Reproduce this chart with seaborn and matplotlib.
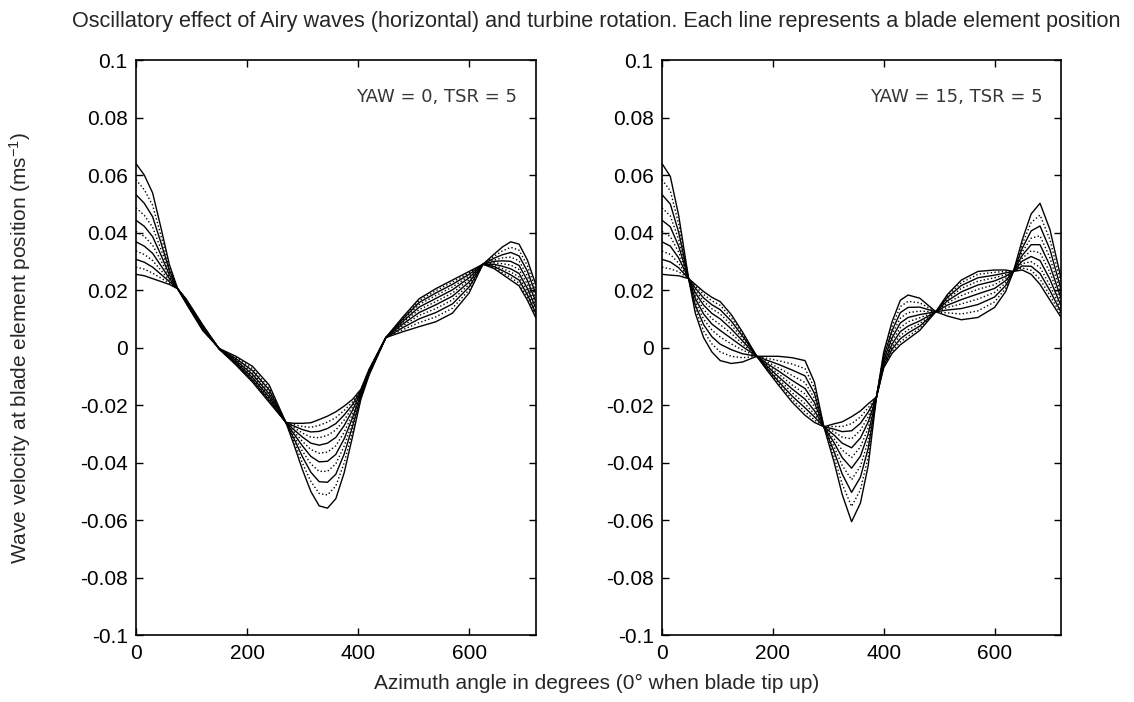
import numpy as np
import pandas as pd
import matplotlib
matplotlib.use('Agg')
import matplotlib.pyplot as plt
import seaborn as sns

# azimuth sample points (degrees)
azimuth_yaw0 = [0, 15, 30, 45, 60, 75, 90, 120, 150, 180, 210, 240, 270, 285, 300, 315, 330, 345,
                360, 375, 390, 405, 420, 450, 480, 510, 540, 570, 600, 625, 645, 660, 675, 690, 705, 720]
azimuth_yaw15 = [0, 15, 30, 48, 60, 75, 90, 105, 125, 145, 171, 190, 210, 235, 258, 275, 292, 310, 325, 342,
                 358, 372, 387, 400, 415, 430, 444, 465, 494, 515, 540, 570, 600, 620, 634, 650, 666, 682, 700, 720]

# wave velocity in mm/s, e01 = innermost blade element ... e11 = blade tip
yaw0_e01 = [25.5, 25.0, 24.0, 23.0, 22.0, 20.5, 17.0, 8.0, -0.5, -6.0, -12.0, -19.0, -26.0, -26.3, -26.3, -26.1, -25.0, -23.8, -22.3, -20.3, -18.0, -14.5, -7.5, 3.5, 10.5, 17.0, 20.5, 23.5, 26.5, 29.0, 27.5, 25.5, 23.5, 21.5, 16.5, 10.5]
yaw0_e02 = [28.0, 27.3, 25.9, 24.2, 22.5, 20.5, 16.9, 7.9, -0.5, -5.8, -11.6, -18.6, -26.0, -26.8, -27.4, -27.7, -27.0, -25.9, -24.3, -21.8, -18.9, -14.7, -7.6, 3.5, 10.2, 16.4, 19.8, 22.8, 26.0, 29.0, 27.8, 26.1, 24.4, 22.4, 17.4, 11.2]
yaw0_e03 = [30.7, 29.7, 28.0, 25.5, 23.0, 20.5, 16.8, 7.7, -0.5, -5.6, -11.3, -18.2, -26.0, -27.3, -28.5, -29.3, -29.1, -28.1, -26.4, -23.4, -19.8, -15.0, -7.8, 3.5, 9.8, 15.7, 19.0, 22.0, 25.5, 29.0, 28.2, 26.8, 25.3, 23.5, 18.4, 12.0]
yaw0_e04 = [33.6, 32.4, 30.3, 26.9, 23.5, 20.5, 16.7, 7.6, -0.5, -5.4, -10.8, -17.7, -26.0, -27.9, -29.7, -31.1, -31.3, -30.5, -28.6, -25.2, -20.7, -15.2, -7.9, 3.5, 9.5, 15.0, 18.1, 21.1, 24.9, 29.0, 28.6, 27.5, 26.3, 24.6, 19.4, 12.9]
yaw0_e05 = [36.8, 35.3, 32.8, 28.5, 24.1, 20.5, 16.6, 7.4, -0.4, -5.1, -10.4, -17.2, -26.0, -28.6, -31.1, -33.2, -33.9, -33.2, -31.2, -27.1, -21.8, -15.5, -8.1, 3.5, 9.0, 14.1, 17.1, 20.1, 24.3, 29.0, 29.0, 28.3, 27.4, 25.8, 20.6, 13.9]
yaw0_e06 = [40.4, 38.7, 35.6, 30.3, 24.7, 20.5, 16.4, 7.2, -0.4, -4.8, -9.9, -16.7, -26.0, -29.3, -32.6, -35.4, -36.7, -36.3, -34.1, -29.4, -23.1, -15.9, -8.3, 3.5, 8.6, 13.2, 16.0, 19.0, 23.6, 29.0, 29.5, 29.2, 28.7, 27.2, 22.0, 15.0]
yaw0_e07 = [44.3, 42.2, 38.6, 32.2, 25.4, 20.5, 16.3, 7.0, -0.4, -4.5, -9.3, -16.1, -26.0, -30.1, -34.2, -37.8, -39.7, -39.5, -37.1, -31.7, -24.4, -16.2, -8.5, 3.5, 8.1, 12.2, 14.9, 17.9, 22.8, 29.0, 30.0, 30.2, 30.0, 28.6, 23.4, 16.1]
yaw0_e08 = [48.6, 46.0, 41.9, 34.2, 26.2, 20.5, 16.1, 6.8, -0.4, -4.2, -8.7, -15.4, -26.0, -30.9, -36.0, -40.4, -43.0, -43.0, -40.4, -34.2, -25.8, -16.6, -8.7, 3.5, 7.5, 11.2, 13.6, 16.6, 22.0, 29.0, 30.5, 31.2, 31.5, 30.2, 24.9, 17.4]
yaw0_e09 = [53.2, 50.2, 45.5, 36.5, 27.0, 20.5, 15.9, 6.6, -0.4, -3.8, -8.0, -14.7, -26.0, -31.8, -38.0, -43.3, -46.6, -46.8, -44.0, -37.0, -27.4, -17.0, -8.9, 3.5, 6.9, 10.0, 12.2, 15.2, 21.1, 29.0, 31.1, 32.3, 33.1, 31.9, 26.6, 18.8]
yaw0_e10 = [58.4, 54.9, 49.5, 39.0, 28.0, 20.5, 15.7, 6.3, -0.3, -3.4, -7.3, -13.9, -26.0, -32.9, -40.2, -46.5, -50.7, -51.2, -48.1, -40.1, -29.1, -17.5, -9.2, 3.5, 6.2, 8.7, 10.7, 13.7, 20.1, 29.0, 31.8, 33.6, 34.9, 33.9, 28.5, 20.3]
yaw0_e11 = [64.0, 60.0, 53.8, 41.7, 29.0, 20.5, 15.5, 6.0, -0.3, -3.0, -6.5, -13.0, -26.0, -34.0, -42.5, -50.0, -55.0, -55.8, -52.5, -43.5, -31.0, -18.0, -9.5, 3.5, 5.5, 7.3, 9.0, 12.0, 19.0, 29.0, 32.5, 35.0, 36.8, 36.0, 30.5, 22.0]

yaw15_e01 = [25.5, 25.2, 25.0, 24.0, 22.0, 19.5, 17.5, 16.0, 11.5, 5.5, -3.0, -8.0, -13.0, -19.0, -23.5, -26.0, -27.5, -26.5, -25.8, -24.0, -22.0, -19.5, -17.1, -7.0, -2.0, 1.0, 3.0, 6.0, 12.5, 18.5, 23.5, 26.5, 27.0, 27.0, 26.5, 27.0, 25.5, 22.0, 16.5, 10.5]
yaw15_e02 = [28.0, 27.4, 26.4, 24.0, 21.4, 18.5, 16.3, 14.7, 10.4, 4.8, -3.0, -7.7, -12.4, -18.0, -22.3, -25.1, -27.5, -27.4, -27.4, -26.4, -24.1, -20.9, -17.1, -6.6, -1.3, 2.0, 4.0, 6.7, 12.5, 18.0, 22.6, 25.5, 26.2, 26.5, 26.5, 27.7, 26.9, 23.8, 18.1, 11.4]
yaw15_e03 = [30.7, 29.8, 27.8, 24.0, 20.7, 17.3, 14.9, 13.2, 9.2, 4.1, -3.0, -7.3, -11.7, -16.9, -20.9, -24.1, -27.5, -28.3, -29.2, -28.9, -26.3, -22.4, -17.1, -6.3, -0.5, 3.1, 5.1, 7.5, 12.5, 17.5, 21.6, 24.3, 25.2, 26.0, 26.5, 28.4, 28.3, 25.8, 19.8, 12.3]
yaw15_e04 = [33.6, 32.4, 29.4, 24.0, 19.9, 16.1, 13.5, 11.7, 7.9, 3.3, -3.0, -7.0, -10.9, -15.7, -19.5, -23.1, -27.5, -29.2, -31.1, -31.7, -28.7, -24.0, -17.1, -5.8, 0.3, 4.3, 6.2, 8.4, 12.5, 16.9, 20.6, 23.1, 24.3, 25.4, 26.5, 29.2, 29.9, 27.9, 21.6, 13.3]
yaw15_e05 = [36.8, 35.3, 31.2, 24.0, 19.1, 14.8, 11.9, 10.0, 6.5, 2.4, -3.0, -6.5, -10.1, -14.4, -17.9, -21.9, -27.5, -30.3, -33.2, -34.8, -31.4, -25.8, -17.1, -5.4, 1.2, 5.6, 7.5, 9.3, 12.5, 16.3, 19.4, 21.8, 23.2, 24.8, 26.5, 30.1, 31.7, 30.3, 23.7, 14.5]
yaw15_e06 = [40.4, 38.6, 33.2, 24.0, 18.1, 13.3, 10.1, 8.0, 4.9, 1.4, -3.0, -6.1, -9.1, -13.0, -16.1, -20.5, -27.5, -31.6, -35.6, -38.2, -34.5, -27.9, -17.1, -4.9, 2.3, 7.0, 9.0, 10.4, 12.5, 15.6, 18.1, 20.3, 21.9, 24.1, 26.5, 31.1, 33.7, 33.0, 26.1, 15.8]
yaw15_e07 = [44.3, 42.0, 35.3, 24.0, 17.1, 11.7, 8.2, 6.0, 3.2, 0.4, -3.0, -5.6, -8.1, -11.4, -14.2, -19.1, -27.5, -32.9, -38.2, -41.9, -37.7, -30.0, -17.1, -4.3, 3.4, 8.6, 10.5, 11.5, 12.5, 14.8, 16.7, 18.7, 20.6, 23.3, 26.5, 32.1, 35.8, 35.8, 28.5, 17.1]
yaw15_e08 = [48.6, 45.8, 37.6, 24.0, 16.0, 9.9, 6.1, 3.7, 1.3, -0.8, -3.0, -5.0, -7.0, -9.7, -12.1, -17.6, -27.5, -34.3, -40.9, -45.9, -41.2, -32.4, -17.1, -3.7, 4.6, 10.3, 12.2, 12.7, 12.5, 14.0, 15.2, 16.9, 19.2, 22.5, 26.5, 33.3, 38.1, 38.9, 31.2, 18.6]
yaw15_e09 = [53.2, 49.9, 40.1, 24.0, 14.8, 8.0, 3.8, 1.2, -0.7, -2.1, -3.0, -4.4, -5.8, -7.8, -9.8, -15.9, -27.5, -35.9, -43.9, -50.3, -45.0, -35.0, -17.1, -3.0, 5.9, 12.2, 14.0, 14.1, 12.5, 13.1, 13.6, 15.0, 17.6, 21.6, 26.5, 34.6, 40.6, 42.3, 34.1, 20.2]
yaw15_e10 = [58.4, 54.5, 43.0, 24.0, 13.5, 5.8, 1.3, -1.5, -3.0, -3.5, -3.0, -3.7, -4.5, -5.7, -7.3, -14.0, -27.5, -37.6, -47.4, -55.2, -49.4, -37.9, -17.1, -2.3, 7.4, 14.3, 16.1, 15.6, 12.5, 12.1, 11.7, 12.8, 15.9, 20.6, 26.5, 36.0, 43.5, 46.1, 37.5, 22.0]
yaw15_e11 = [64.0, 59.5, 46.0, 24.0, 12.0, 3.5, -1.5, -4.5, -5.5, -5.0, -3.0, -3.0, -3.0, -3.5, -4.5, -12.0, -27.5, -39.5, -51.0, -60.5, -54.0, -41.0, -17.1, -1.5, 9.0, 16.5, 18.3, 17.2, 12.5, 11.0, 9.7, 10.5, 14.0, 19.5, 26.5, 37.5, 46.5, 50.2, 41.0, 24.0]

panel_labels = ['YAW = 0, TSR = 5', 'YAW = 15, TSR = 5']
xticks = [0, 200, 400, 600]
yticks = [-0.1, -0.08, -0.06, -0.04, -0.02, 0, 0.02, 0.04, 0.06, 0.08, 0.1]
ytick_labels = ['-0.1', '-0.08', '-0.06', '-0.04', '-0.02', '0',
                '0.02', '0.04', '0.06', '0.08', '0.1']


def to_long(azimuth, lines):
    frames = []
    for k, vals in enumerate(lines):
        frames.append(pd.DataFrame({'azimuth': azimuth,
                                    'velocity': np.array(vals) / 1000.0,
                                    'element': k}))
    return pd.concat(frames, ignore_index=True)


df0 = to_long(azimuth_yaw0, [yaw0_e01, yaw0_e02, yaw0_e03, yaw0_e04, yaw0_e05, yaw0_e06,
                             yaw0_e07, yaw0_e08, yaw0_e09, yaw0_e10, yaw0_e11])
df15 = to_long(azimuth_yaw15, [yaw15_e01, yaw15_e02, yaw15_e03, yaw15_e04, yaw15_e05, yaw15_e06,
                               yaw15_e07, yaw15_e08, yaw15_e09, yaw15_e10, yaw15_e11])

sns.set_theme(style='ticks')
plt.rcParams['font.family'] = ['Liberation Sans', 'DejaVu Sans']
plt.rcParams['mathtext.default'] = 'regular'

fig = plt.figure(figsize=(11.34, 7.02), dpi=100)
ax1 = fig.add_axes([0.1199, 0.0950, 0.3525, 0.8195])
ax2 = fig.add_axes([0.5838, 0.0950, 0.3519, 0.8195])

for ax, df, label in [(ax1, df0, panel_labels[0]), (ax2, df15, panel_labels[1])]:
    for k, grp in df.groupby('element'):
        sns.lineplot(data=grp, x='azimuth', y='velocity', ax=ax, color='black',
                     linewidth=1.0, linestyle='-' if k % 2 == 0 else ':',
                     legend=False)
    ax.set_xlim(0, 720)
    ax.set_ylim(-0.1, 0.1)
    ax.set_xticks(xticks)
    ax.set_xticklabels([str(t) for t in xticks])
    ax.set_yticks(yticks)
    ax.set_yticklabels(ytick_labels)
    ax.tick_params(direction='in', top=True, right=True, length=5, width=1,
                   labelsize=15, pad=6, colors='black')
    for s in ax.spines.values():
        s.set_linewidth(1.2)
        s.set_color('black')
    ax.set_xlabel('')
    ax.set_ylabel('')
    ax.text(0.953, 0.935, label, transform=ax.transAxes, ha='right', va='center',
            fontsize=13, color='#363636', family=['DejaVu Sans'])

fig.text(0.5256, 0.9687, 'Oscillatory effect of Airy waves (horizontal) and turbine rotation. '
         'Each line represents a blade element position', ha='center', va='center', fontsize=15.6)
fig.text(0.5265, 0.027, 'Azimuth angle in degrees (0\u00b0 when blade tip up)',
         ha='center', va='center', fontsize=15)
fig.text(0.0176, 0.504, 'Wave velocity at blade element position (ms$^{-1}$)',
         ha='center', va='center', rotation=90, fontsize=15)

fig.savefig('out.png', dpi=100)
